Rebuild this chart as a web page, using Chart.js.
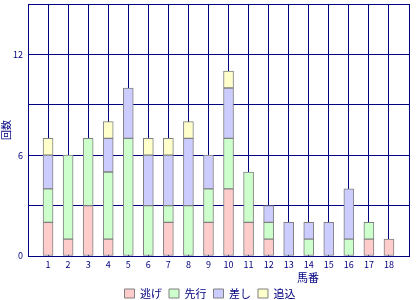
<!DOCTYPE html>
<html>
<head>
<meta charset="utf-8">
<script src="https://cdn.jsdelivr.net/npm/chart.js@4"></script>
<style>
  html, body { margin: 0; padding: 0; background: #fff; }
  #wrap { width: 420px; height: 300px; }
</style>
</head>
<body>
<div id="wrap"><canvas id="umabanChart" width="420" height="300"></canvas></div>
<script>
// 馬番ごとの脚質別回数
const umaban = ['1','2','3','4','5','6','7','8','9','10','11','12','13','14','15','16','17','18'];
const nige   = [2, 1, 3, 1, 0, 0, 2, 0, 2, 4, 2, 1, 0, 0, 0, 0, 1, 1];
const senko  = [2, 5, 4, 4, 7, 3, 1, 3, 2, 3, 3, 1, 0, 1, 0, 1, 1, 0];
const sashi  = [2, 0, 0, 2, 3, 3, 3, 4, 2, 3, 0, 1, 2, 1, 2, 3, 0, 0];
const oikomi = [1, 0, 0, 1, 0, 1, 1, 1, 0, 1, 0, 0, 0, 0, 0, 0, 0, 0];
const yTicks = [0, 6, 12];

const NAVY = '#000080';
const FONT = "'Noto Sans CJK JP', 'DejaVu Sans', sans-serif";

// 両端に空の枠を入れて、グリッド線の位置を合わせる
const labels = [''].concat(umaban, ['']);
const pad = arr => [null].concat(arr.map(v => v === 0 ? null : v), [null]);

const mkSet = (label, data, color) => ({
    label: label,
    data: pad(data),
    backgroundColor: color,
    borderColor: '#808080',
    borderWidth: 1,
    borderSkipped: false,
    barThickness: 10
});

// x軸タイトル「馬番」は右寄りなので手で描く
const xTitle = {
    id: 'xTitle',
    afterDraw(chart) {
        const ctx = chart.ctx;
        const area = chart.chartArea;
        ctx.save();
        ctx.fillStyle = NAVY;
        ctx.font = '11px ' + FONT;
        ctx.textAlign = 'right';
        ctx.textBaseline = 'middle';
        ctx.fillText('馬番', area.right - 90, area.bottom + 22);
        ctx.restore();
    }
};

new Chart(document.getElementById('umabanChart'), {
    type: 'bar',
    data: {
        labels: labels,
        datasets: [
            mkSet('逃げ', nige, '#ffcccc'),
            mkSet('先行', senko, '#ccffcc'),
            mkSet('差し', sashi, '#ccccff'),
            mkSet('追込', oikomi, '#ffffcc')
        ]
    },
    options: {
        responsive: false,
        animation: false,
        layout: { padding: { top: 4, right: 0, left: 0, bottom: -9 } },
        scales: {
            x: {
                stacked: true,
                offset: false,
                grid: { color: NAVY, lineWidth: 1, offset: false, drawTicks: false },
                border: { color: NAVY },
                ticks: { color: NAVY, font: { family: FONT, size: 9 }, padding: 3, maxRotation: 0, autoSkip: false },
                afterFit: s => { s.height = 25; s.paddingRight = 11; }
            },
            y: {
                stacked: true,
                min: 0,
                max: 15,
                grid: { color: NAVY, lineWidth: 1, drawTicks: false },
                border: { color: NAVY },
                ticks: {
                    stepSize: 3,
                    color: NAVY,
                    padding: 5,
                    font: { family: FONT, size: 9 },
                    callback: v => yTicks.includes(v) ? v : ''
                },
                title: { display: true, text: '回数', color: NAVY, font: { family: FONT, size: 10 }, padding: 0 },
                afterFit: s => { s.width = 28; s.paddingTop = 0; }
            }
        },
        plugins: {
            legend: {
                position: 'bottom',
                labels: {
                    color: NAVY,
                    boxWidth: 10,
                    boxHeight: 9,
                    padding: 7,
                    font: { family: FONT, size: 11 }
                }
            },
            tooltip: { enabled: false }
        }
    },
    plugins: [xTitle]
});
</script>
</body>
</html>
